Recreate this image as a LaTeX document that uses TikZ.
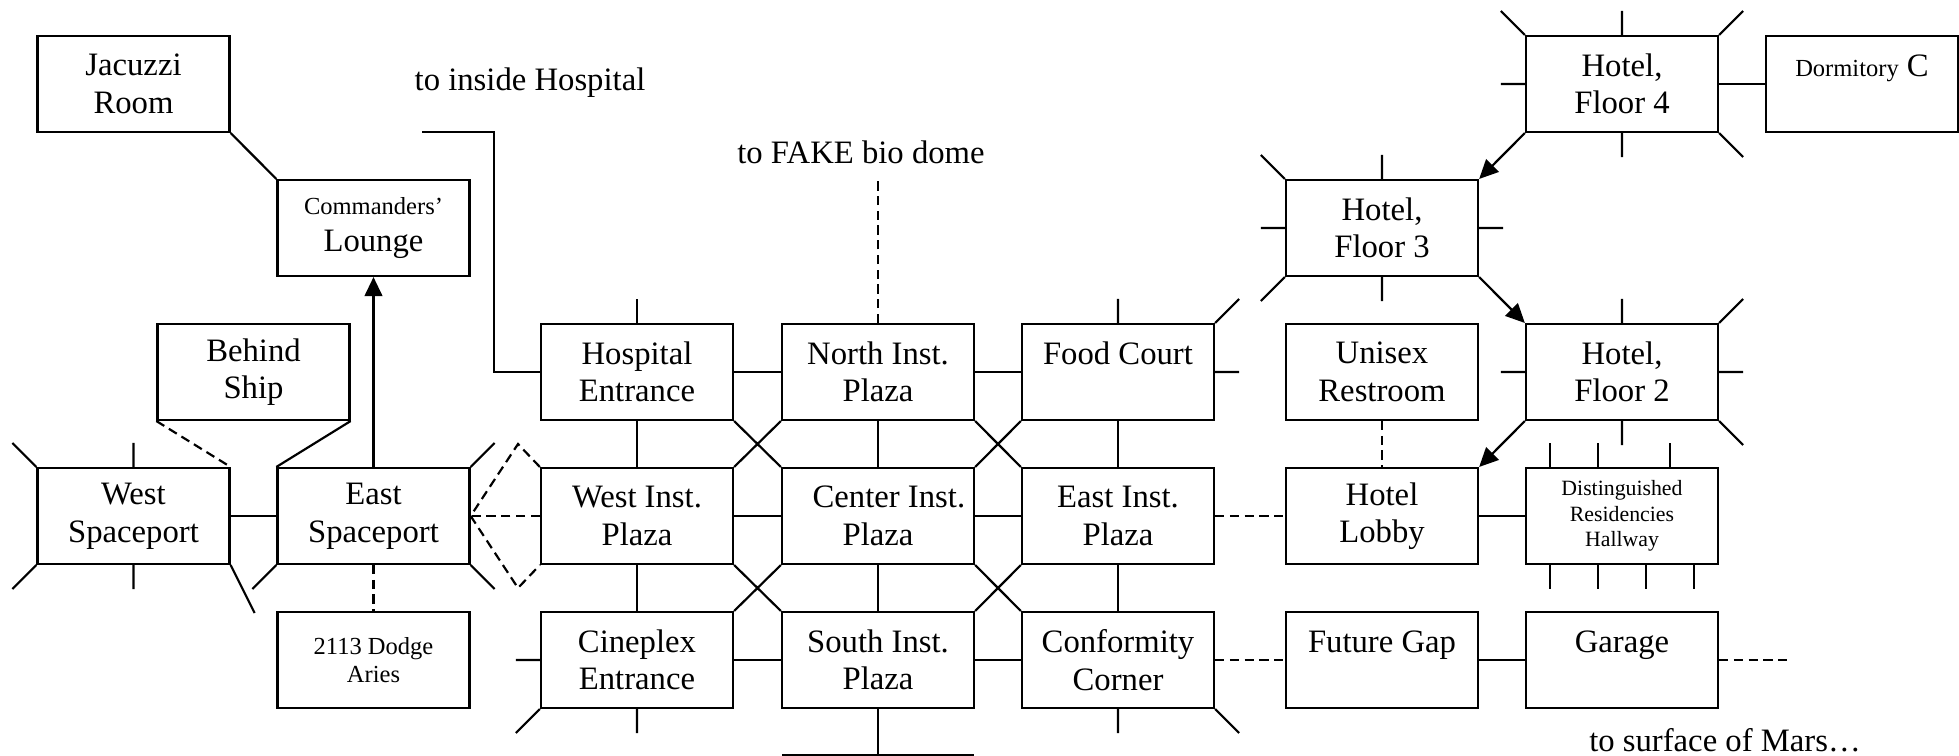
\documentclass[tikz,border=0pt]{standalone}
\usepackage{fontspec}
\setmainfont{Liberation Serif}
\usetikzlibrary{arrows.meta}

\tikzset{
  room/.style={draw,thick,rectangle,minimum width=70.5pt,minimum height=35.2pt,inner sep=0pt,align=center},
  smalltxt/.style={font=\fontsize{9}{10.4}\selectfont},
  tinytxt/.style={font=\fontsize{8}{9.3}\selectfont},
  gap/.style={thick,dash pattern=on 3.4pt off 2pt},
  lift/.style={thick,-{Triangle[length=7pt,width=6.5pt]}}
}

\begin{document}
\begin{tikzpicture}[x=0.367pt,y=-0.367pt,font=\fontsize{12}{13.8}\selectfont]
\useasboundingbox (0,0) rectangle (1959,756);
% west side
\node[room] (jac) at (133.5,84) {Jacuzzi\\Room};
\node[room] (cmd) at (373.5,228) {{\fontsize{9}{10.4}\selectfont Commanders’}\\Lounge};
\node[room] (bsh) at (253.5,372) {Behind\\Ship};
\node[room] (wsp) at (133.5,516) {West\\Spaceport};
\node[room] (esp) at (373.5,516) {East\\Spaceport};
\node[room,smalltxt] (dod) at (373.5,660) {2113 Dodge\\Aries};
% institute plazas
\node[room] (hos) at (637,372) {Hospital\\Entrance};
\node[room] (nip) at (878,372) {North Inst.\\Plaza};
\node[room] (fdc) at (1118,372) {Food Court\\~};
\node[room] (wip) at (637,516) {West Inst.\\Plaza};
\node[room] (cip) at (878,516) {\hspace*{8pt}Center Inst.\\Plaza};
\node[room] (eip) at (1118,516) {East Inst.\\Plaza};
\node[room] (cin) at (637,660) {Cineplex\\Entrance};
\node[room] (sip) at (878,660) {South Inst.\\Plaza};
\node[room] (cfc) at (1118,660) {Conformity\\Corner};
% hotel
\node[room] (uni) at (1382,372) {Unisex\\Restroom};
\node[room] (lob) at (1382,516) {Hotel\\Lobby};
\node[room] (fut) at (1382,660) {Future Gap\\~};
\node[room] (fl3) at (1382,228) {Hotel,\\Floor 3};
\node[room] (fl4) at (1622,84) {Hotel,\\Floor 4};
\node[room] (fl2) at (1622,372) {Hotel,\\Floor 2};
\node[room,tinytxt] (drh) at (1622,516) {Distinguished\\Residencies\\Hallway};
\node[room] (gar) at (1622,660) {Garage\\~};
\node[room] (dorm) at (1862,84) {{\fontsize{9}{10.4}\selectfont Dormitory} C\\~};
% exits
\node[anchor=base] (thos) at (530,90) {to inside Hospital};
\node[anchor=base] (tbio) at (861,163) {to FAKE bio dome};
\node[anchor=base] (tmars) at (1725,751) {to surface of Mars…};
\coordinate (hin) at (422,132);
\coordinate (bio) at (878,181);
\coordinate (dtop) at (518,444);
\coordinate (dbot) at (518,588);
\coordinate (sbot) at (878,755);
% links
\draw[thick] (jac.south east) -- (cmd.north west);
\draw[lift] (esp) -- (cmd);
\draw[gap] (bsh.south west) -- (wsp.north east);
\draw[thick] (bsh.south east) -- (esp.north west);
\draw[thick] (wsp) -- (esp);
\draw[gap] (esp) -- (dod);
\draw[gap] (wip) -- (esp);
\draw[gap] (wip.north west) -- (dtop) -- (esp.east) -- (dbot) -- (wip.south west);
\draw[thick] (hin) -- ++(72,0) |- (hos.west);
\draw[gap] (nip) -- (bio);
\draw[thick] (hos) -- (nip) -- (fdc);
\draw[thick] (wip) -- (cip) -- (eip);
\draw[thick] (cin) -- (sip) -- (cfc);
\draw[thick] (hos) -- (wip) -- (cin);
\draw[thick] (nip) -- (cip) -- (sip);
\draw[thick] (fdc) -- (eip) -- (cfc);
\draw[thick] (hos.south east) -- (cip.north west) (nip.south west) -- (wip.north east);
\draw[thick] (nip.south east) -- (eip.north west) (fdc.south west) -- (cip.north east);
\draw[thick] (wip.south east) -- (sip.north west) (cip.south west) -- (cin.north east);
\draw[thick] (cip.south east) -- (cfc.north west) (eip.south west) -- (sip.north east);
\draw[thick] (sip) -- (sbot) (782,755) -- (974,755);
\draw[gap] (eip) -- (lob);
\draw[gap] (cfc) -- (fut);
\draw[gap] (uni) -- (lob);
\draw[thick] (lob) -- (drh);
\draw[thick] (fut) -- (gar);
\draw[gap] (gar.east) -- ++(72,0);
\draw[thick] (fl4) -- (dorm);
\draw[lift] (fl4.south west) -- (fl3.north east);
\draw[lift] (fl3.south east) -- (fl2.north west);
\draw[lift] (fl2.south west) -- (lob.north east);
% open ends
\draw[thick] (wsp.north west) -- ++(-24,-24) (wsp.north) -- ++(0,-24) (wsp.south west) -- ++(-24,24)
  (wsp.south) -- ++(0,24) (wsp.south east) -- ++(24,48);
\draw[thick] (esp.north east) -- ++(24,-24) (esp.south west) -- ++(-24,24) (esp.south east) -- ++(24,24);
\draw[thick] (hos.north) -- ++(0,-24);
\draw[thick] (fdc.north) -- ++(0,-24) (fdc.north east) -- ++(24,-24) (fdc.east) -- ++(24,0);
\draw[thick] (cin.west) -- ++(-24,0) (cin.south west) -- ++(-24,24) (cin.south) -- ++(0,24);
\draw[thick] (cfc.south) -- ++(0,24) (cfc.south east) -- ++(24,24);
\draw[thick] (fl3.north west) -- ++(-24,-24) (fl3.north) -- ++(0,-24) (fl3.west) -- ++(-24,0)
  (fl3.east) -- ++(24,0) (fl3.south west) -- ++(-24,24) (fl3.south) -- ++(0,24);
\draw[thick] (fl4.north west) -- ++(-24,-24) (fl4.north) -- ++(0,-24) (fl4.north east) -- ++(24,-24)
  (fl4.west) -- ++(-24,0) (fl4.south) -- ++(0,24) (fl4.south east) -- ++(24,24);
\draw[thick] (fl2.north) -- ++(0,-24) (fl2.north east) -- ++(24,-24) (fl2.west) -- ++(-24,0)
  (fl2.east) -- ++(24,0) (fl2.south) -- ++(0,24) (fl2.south east) -- ++(24,24);
\draw[thick] (drh.north) ++(-72,0) -- ++(0,-24) (drh.north) ++(-24,0) -- ++(0,-24) (drh.north) ++(48,0) -- ++(0,-24);
\draw[thick] (drh.south) ++(-72,0) -- ++(0,24) (drh.south) ++(-24,0) -- ++(0,24)
  (drh.south) ++(24,0) -- ++(0,24) (drh.south) ++(72,0) -- ++(0,24);
\end{tikzpicture}
\end{document}
